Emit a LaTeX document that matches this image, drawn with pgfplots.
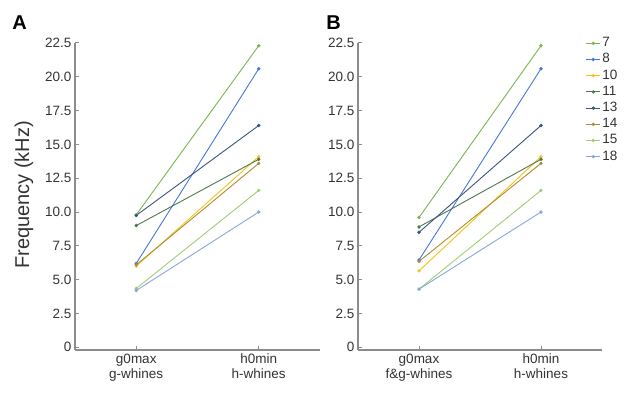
\documentclass[border=0pt]{standalone}
\usepackage{fontspec}
\setmainfont{Liberation Sans}
\usepackage{pgfplots}
\pgfplotsset{compat=1.18}
\definecolor{c7}{HTML}{7CB450}
\definecolor{c8}{HTML}{4678D7}
\definecolor{c10}{HTML}{F5C314}
\definecolor{c11}{HTML}{507850}
\definecolor{c13}{HTML}{3C557D}
\definecolor{c14}{HTML}{AF8C32}
\definecolor{c15}{HTML}{A0CD78}
\definecolor{c18}{HTML}{8CA5DC}
\definecolor{axgray}{HTML}{8C8C8C}
\definecolor{txt}{HTML}{333333}
\pgfplotsset{
  panel/.style={
    scale only axis, width=245pt, height=307pt,
    xmin=-0.5, xmax=1.5, ymin=-0.2, ymax=22.5,
    axis lines*=left,
    axis line style={axgray, line width=1.2pt},
    tick style={axgray, line width=1pt},
    tick align=inside, major tick length=4pt,
    xtick={0,1}, ytick={0,2.5,...,22.5},
    yticklabels={0,2.5,5.0,7.5,10.0,12.5,15.0,17.5,20.0,22.5},
    /pgf/number format/assume math mode=true,
    ticklabel style={font=\fontsize{13.5}{15}\selectfont, text=txt},
    xticklabel style={align=center, yshift=-0.5pt},
    every axis plot/.append style={line width=0.9pt, mark=*, mark size=1.2pt},
  },
}
\begin{document}
\begin{tikzpicture}
\useasboundingbox (0,0) rectangle (630pt,403pt);
\node[font=\bfseries\fontsize{20}{22}\selectfont, anchor=center] at (19.5pt,380.5pt) {A};
\node[font=\bfseries\fontsize{20}{22}\selectfont, anchor=center] at (333.5pt,380.5pt) {B};
\begin{axis}[panel, at={(75pt,53pt)}, anchor=south west,
  xticklabels={{g0max\\g-whines},{h0min\\h-whines}},
  ylabel={Frequency (kHz)},
  ylabel style={font=\fontsize{20}{22}\selectfont, text=txt, at={(axis description cs:-0.208,0.505)}, anchor=center},
]
\addplot[c7]  coordinates {(0,9.8) (1,22.3)};
\addplot[c8]  coordinates {(0,6.2) (1,20.6)};
\addplot[c10] coordinates {(0,6.0) (1,14.1)};
\addplot[c11] coordinates {(0,9.0) (1,13.9)};
\addplot[c13] coordinates {(0,9.75) (1,16.4)};
\addplot[c14] coordinates {(0,6.1) (1,13.6)};
\addplot[c15] coordinates {(0,4.35) (1,11.6)};
\addplot[c18] coordinates {(0,4.2) (1,10.0)};
\end{axis}
\begin{axis}[panel, at={(358pt,53pt)}, anchor=south west, width=244pt,
  xticklabels={{g0max\\f\&g-whines},{h0min\\h-whines}},
  legend style={at={(axis description cs:0.933,1.026)}, anchor=north west,
    draw=none, fill=none, font=\fontsize{13.5}{15}\selectfont, text=txt,
    row sep=0pt, inner sep=0pt,
    nodes={inner sep=1.5pt, text height=10pt, text depth=3.2pt, anchor=west}},
  legend cell align=left,
  legend image code/.code={\draw[mark repeat=2,mark phase=2,line width=0.9pt] plot coordinates {(0pt,0pt) (7pt,0pt) (14pt,0pt)};},
]
\addplot[c7]  coordinates {(0,9.6) (1,22.3)};
\addplot[c8]  coordinates {(0,6.45) (1,20.6)};
\addplot[c10] coordinates {(0,5.65) (1,14.1)};
\addplot[c11] coordinates {(0,8.9) (1,13.9)};
\addplot[c13] coordinates {(0,8.5) (1,16.4)};
\addplot[c14] coordinates {(0,6.35) (1,13.6)};
\addplot[c15] coordinates {(0,4.3) (1,11.6)};
\addplot[c18] coordinates {(0,4.3) (1,10.0)};
\legend{7,8,10,11,13,14,15,18}
\end{axis}
\end{tikzpicture}
\end{document}
